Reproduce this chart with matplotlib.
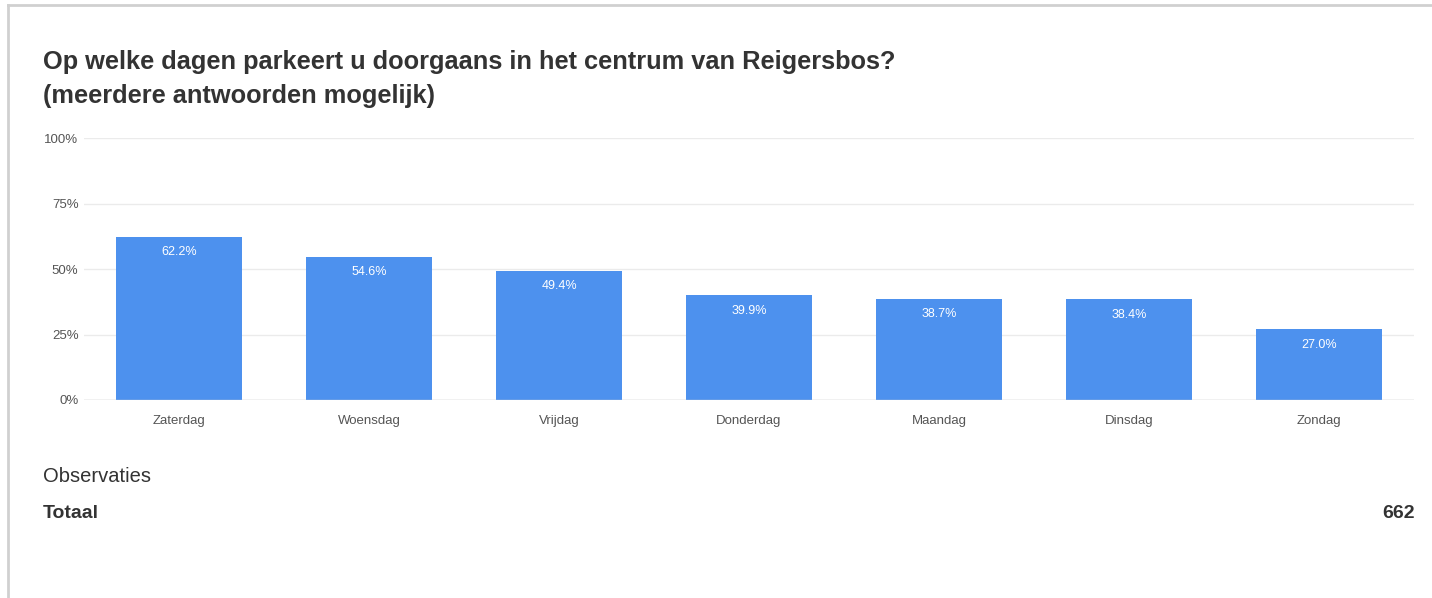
import matplotlib
matplotlib.use('Agg')
import matplotlib.pyplot as plt
from matplotlib.ticker import PercentFormatter
from matplotlib.lines import Line2D

plt.rcParams['font.family'] = ['Liberation Sans', 'DejaVu Sans']

days = ['Zaterdag', 'Woensdag', 'Vrijdag', 'Donderdag', 'Maandag', 'Dinsdag', 'Zondag']
shares = [62.2, 54.6, 49.4, 39.9, 38.7, 38.4, 27.0]
y_ticks = [0, 25, 50, 75, 100]
total_label = 'Totaal'
total_value = 662

W, H = 1432, 598
fig = plt.figure(figsize=(W / 100, H / 100), dpi=100)

# outer card border (top and left only visible)
fig.add_artist(Line2D([8 / W, 1], [1 - 5 / H, 1 - 5 / H], color='#d0d0d0', lw=2))
fig.add_artist(Line2D([8 / W, 8 / W], [0, 1 - 5 / H], color='#d0d0d0', lw=2))

fig.text(43 / W, 1 - 62 / H, 'Op welke dagen parkeert u doorgaans in het centrum van Reigersbos?',
         fontsize=18.3, fontweight='bold', color='#333333', va='center', ha='left')
fig.text(43 / W, 1 - 96 / H, '(meerdere antwoorden mogelijk)',
         fontsize=18.3, fontweight='bold', color='#333333', va='center', ha='left')

ax = fig.add_axes([84 / W, (H - 400) / H, (1414 - 84) / W, 262 / H])
bars = ax.bar(range(len(days)), shares, width=0.663, color='#4d91ee', zorder=3)
ax.set_xlim(-0.5, len(days) - 0.5)
ax.set_ylim(0, 100)
ax.set_yticks(y_ticks)
ax.yaxis.set_major_formatter(PercentFormatter(decimals=0))
ax.set_xticks(range(len(days)))
ax.set_xticklabels(days)
ax.tick_params(axis='both', length=0, labelsize=9.5, colors='#555555')
ax.tick_params(axis='y', pad=4)
ax.tick_params(axis='x', pad=11)
for s in ax.spines.values():
    s.set_visible(False)
ax.grid(axis='y', color='#ebebeb', lw=1, zorder=0)
ax.axhline(0, color='#cccccc', lw=1, zorder=4)

for b, v in zip(bars, shares):
    ax.annotate(f'{v:.1f}%', (b.get_x() + b.get_width() / 2, v), xytext=(0, -11),
                textcoords='offset points', ha='center', va='center',
                fontsize=9, color='white', zorder=5)

fig.text(43 / W, 1 - 477 / H, 'Observaties', fontsize=14.5, color='#333333', va='center', ha='left')
fig.text(43 / W, 1 - 514 / H, total_label, fontsize=14, fontweight='bold', color='#333333',
         va='center', ha='left')
fig.text(1415 / W, 1 - 514 / H, str(total_value), fontsize=14, fontweight='bold', color='#333333',
         va='center', ha='right')

fig.savefig('out.png', dpi=100, facecolor='white')
